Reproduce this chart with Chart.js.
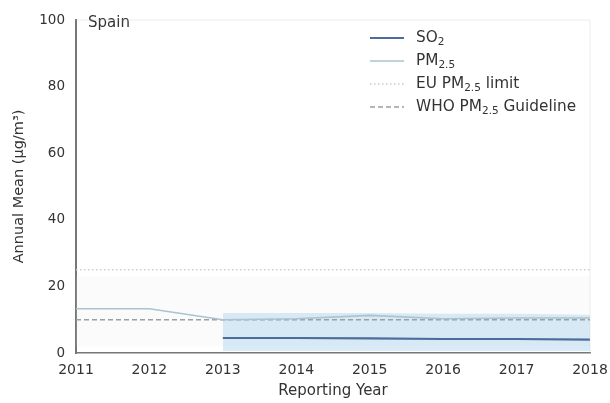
<!DOCTYPE html>
<html>
<head>
<meta charset="utf-8">
<script src="https://cdn.jsdelivr.net/npm/chart.js@4.4.1/dist/chart.umd.min.js"></script>
<style>
  html, body { margin: 0; padding: 0; background: #fff; }
  #wrap { width: 610px; height: 403px; }
</style>
</head>
<body>
<div id="wrap"><canvas id="c" width="610" height="403"></canvas></div>
<script>
// Reporting years and annual means (µg/m³) for Spain
const years = [2011, 2012, 2013, 2014, 2015, 2016, 2017, 2018];
const so2Years = [2013, 2014, 2015, 2016, 2017, 2018];
const so2Mean = [4.5, 4.5, 4.4, 4.2, 4.2, 4.0];
const so2Upper = [12.0, 12.0, 12.0, 11.8, 11.8, 11.5];
const so2Lower = [0.6, 0.6, 0.6, 0.6, 0.6, 0.6];
const pm25Mean = [13.3, 13.3, 10.0, 10.3, 11.3, 10.3, 10.5, 10.5];
const pm25Upper = [23, 23, 23, 23, 23, 23, 23, 23];
const pm25Lower = [2, 2, 2, 2, 2, 2, 2, 2];
const euLimit = 25;
const whoGuideline = 10;
const yTicks = [0, 20, 40, 60, 80, 100];
const countryName = 'Spain';

const legendItems = [
  { parts: [['SO', 0], ['2', 1]], color: '#4c6d9c', dash: [], width: 2.2 },
  { parts: [['PM', 0], ['2.5', 1]], color: '#a9c4cf', dash: [], width: 1.6 },
  { parts: [['EU PM', 0], ['2.5', 1], [' limit', 0]], color: '#c8ccd0', dash: [1.5, 2.5], width: 1.4 },
  { parts: [['WHO PM', 0], ['2.5', 1], [' Guideline', 0]], color: '#9aa0a6', dash: [5, 3], width: 1.4 }
];

const pts = (xs, ys) => xs.map((x, i) => ({ x: x, y: ys[i] }));
const constLine = v => years.map(x => ({ x: x, y: v }));

const FONT = '"DejaVu Sans", sans-serif';

const overlay = {
  id: 'overlay',
  afterDraw(chart) {
    const ctx = chart.ctx;
    const a = chart.chartArea;
    ctx.save();
    // country label
    ctx.fillStyle = '#333';
    ctx.font = '15px ' + FONT;
    ctx.textBaseline = 'middle';
    ctx.textAlign = 'left';
    ctx.fillText(countryName, a.left + 12, a.top + 3);
    // legend
    let y = 38;
    legendItems.forEach(item => {
      ctx.beginPath();
      ctx.setLineDash(item.dash);
      ctx.strokeStyle = item.color;
      ctx.lineWidth = item.width;
      ctx.moveTo(370, y);
      ctx.lineTo(404, y);
      ctx.stroke();
      ctx.setLineDash([]);
      let x = 416;
      ctx.fillStyle = '#333';
      item.parts.forEach(([t, sub]) => {
        ctx.font = (sub ? '10.5px ' : '15.3px ') + FONT;
        ctx.fillText(t, x, sub ? y + 4 : y);
        x += ctx.measureText(t).width;
      });
      y += 23;
    });
    // frame on top/right, faint
    ctx.strokeStyle = 'rgba(200,200,200,0.35)';
    ctx.lineWidth = 1;
    ctx.beginPath();
    ctx.moveTo(a.left, a.top);
    ctx.lineTo(a.right, a.top);
    ctx.lineTo(a.right, a.bottom);
    ctx.stroke();
    ctx.restore();
  }
};

new Chart(document.getElementById('c'), {
  type: 'line',
  data: {
    datasets: [
      { data: pts(years, pm25Upper), borderWidth: 0, pointRadius: 0, fill: '+1',
        backgroundColor: 'rgba(225,230,236,0.15)', order: 9 },
      { data: pts(years, pm25Lower), borderWidth: 0, pointRadius: 0, fill: false, order: 9 },
      { data: pts(so2Years, so2Upper), borderWidth: 0, pointRadius: 0, fill: '+1',
        backgroundColor: 'rgba(190,222,240,0.6)', order: 8 },
      { data: pts(so2Years, so2Lower), borderWidth: 0, pointRadius: 0, fill: false, order: 8 },
      { label: 'EU limit', data: constLine(euLimit), borderColor: '#c8ccd0', borderWidth: 1.4,
        borderDash: [1.5, 2.5], pointRadius: 0, fill: false, order: 3 },
      { label: 'WHO', data: constLine(whoGuideline), borderColor: '#9aa0a6', borderWidth: 1.4,
        borderDash: [5, 3], pointRadius: 0, fill: false, order: 3 },
      { label: 'PM2.5', data: pts(years, pm25Mean), borderColor: '#a9c4cf', borderWidth: 1.6,
        pointRadius: 0, fill: false, tension: 0, order: 2 },
      { label: 'SO2', data: pts(so2Years, so2Mean), borderColor: '#4c6d9c', borderWidth: 2.2,
        pointRadius: 0, fill: false, tension: 0, order: 1 }
    ]
  },
  options: {
    responsive: false,
    animation: false,
    devicePixelRatio: 1,
    layout: { padding: { top: 20, right: 20, left: 0, bottom: 0 } },
    plugins: { legend: { display: false }, tooltip: { enabled: false } },
    scales: {
      x: {
        type: 'linear', min: 2011, max: 2018,
        afterFit: s => { s.height = 50; s.paddingRight = 0; s.paddingLeft = 0; },
        afterBuildTicks: s => { s.ticks = years.map(v => ({ value: v })); },
        grid: { display: false, drawTicks: true, tickLength: 4, tickColor: '#666' },
        border: { color: '#777', width: 1.5 },
        ticks: { color: '#333', font: { family: FONT, size: 14 }, padding: 5, maxRotation: 0,
                 callback: v => String(v) },
        title: { display: true, text: 'Reporting Year', color: '#333',
                 font: { family: FONT, size: 15 }, padding: { top: 0, bottom: 3 } }
      },
      y: {
        min: 0, max: 100,
        afterFit: s => { s.width = 76; s.paddingTop = 0; s.paddingBottom = 0; },
        afterBuildTicks: s => { s.ticks = yTicks.map(v => ({ value: v })); },
        grid: { display: false, drawTicks: true, tickLength: 4, tickColor: '#666' },
        border: { color: '#777', width: 2 },
        ticks: { color: '#333', font: { family: FONT, size: 13.5 }, padding: 7 },
        title: { display: true, text: 'Annual Mean (μg/m³)', color: '#333',
                 font: { family: FONT, size: 14.5 }, padding: { top: 11, bottom: 4 } }
      }
    }
  },
  plugins: [overlay]
});
</script>
</body>
</html>
